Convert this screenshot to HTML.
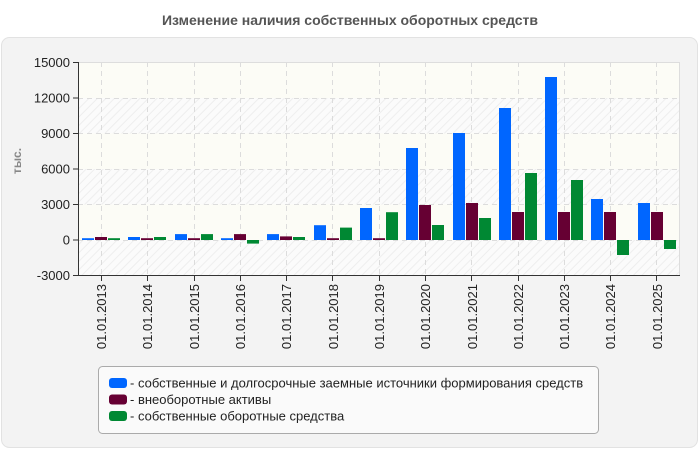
<!DOCTYPE html>
<html><head><meta charset="utf-8"><style>
html,body{margin:0;padding:0;background:#fff;}
svg{display:block;font-family:"Liberation Sans",sans-serif;}
</style></head><body>
<svg width="700" height="450" viewBox="0 0 700 450" xmlns="http://www.w3.org/2000/svg">
<defs>
<pattern id="h" width="6" height="6" patternUnits="userSpaceOnUse" patternTransform="rotate(45)">
<rect width="6" height="6" fill="#fbfbfb"/><line x1="0" y1="0" x2="0" y2="6" stroke="#eeeeee" stroke-width="2"/>
</pattern>
</defs>
<text x="350" y="25" text-anchor="middle" font-size="14" font-weight="bold" fill="#555">Изменение наличия собственных оборотных средств</text>
<rect x="1.5" y="37.5" width="696" height="410" rx="8" fill="#f3f3f3" stroke="#e2e2e2"/>
<rect x="78" y="62.5" width="602" height="35.5" fill="#fcfcf6"/>
<rect x="78" y="98" width="602" height="35.5" fill="url(#h)"/>
<rect x="78" y="133.5" width="602" height="35.5" fill="#fcfcf6"/>
<rect x="78" y="169" width="602" height="35.5" fill="url(#h)"/>
<rect x="78" y="204.5" width="602" height="35.5" fill="#fcfcf6"/>
<rect x="78" y="240" width="602" height="35.5" fill="url(#h)"/>
<g stroke="#dcdcdc" stroke-dasharray="5,4" stroke-width="1">
<line x1="78" y1="98.5" x2="680" y2="98.5"/><line x1="78" y1="133.5" x2="680" y2="133.5"/><line x1="78" y1="169.5" x2="680" y2="169.5"/><line x1="78" y1="204.5" x2="680" y2="204.5"/><line x1="78" y1="240.5" x2="680" y2="240.5"/>
<line x1="101.5" y1="62" x2="101.5" y2="275"/><line x1="147.5" y1="62" x2="147.5" y2="275"/><line x1="194.5" y1="62" x2="194.5" y2="275"/><line x1="240.5" y1="62" x2="240.5" y2="275"/><line x1="286.5" y1="62" x2="286.5" y2="275"/><line x1="332.5" y1="62" x2="332.5" y2="275"/><line x1="379.5" y1="62" x2="379.5" y2="275"/><line x1="425.5" y1="62" x2="425.5" y2="275"/><line x1="471.5" y1="62" x2="471.5" y2="275"/><line x1="518.5" y1="62" x2="518.5" y2="275"/><line x1="564.5" y1="62" x2="564.5" y2="275"/><line x1="610.5" y1="62" x2="610.5" y2="275"/><line x1="656.5" y1="62" x2="656.5" y2="275"/>
</g>
<line x1="78" y1="62.5" x2="680" y2="62.5" stroke="#dddddd"/>
<line x1="679.5" y1="62" x2="679.5" y2="275" stroke="#dddddd"/>
<g fill="#0066ff">
<rect x="82" y="238.2" width="12" height="1.8"/><rect x="128" y="237" width="12" height="3"/><rect x="175" y="234.1" width="12" height="5.9"/><rect x="221" y="238.2" width="12" height="1.8"/><rect x="267" y="234.1" width="12" height="5.9"/><rect x="314" y="225.2" width="12" height="14.8"/><rect x="360" y="208" width="12" height="32"/><rect x="406" y="148" width="12" height="92"/><rect x="453" y="133" width="12" height="107"/><rect x="499" y="108" width="12" height="132"/><rect x="545" y="77" width="12" height="163"/><rect x="591" y="199" width="12" height="41"/><rect x="638" y="203" width="12" height="37"/>
</g>
<g fill="#660033">
<rect x="95" y="237" width="12" height="3"/><rect x="141" y="238.2" width="12" height="1.8"/><rect x="188" y="238.2" width="12" height="1.8"/><rect x="234" y="234.1" width="12" height="5.9"/><rect x="280" y="236.4" width="12" height="3.6"/><rect x="327" y="238.2" width="12" height="1.8"/><rect x="373" y="238.2" width="12" height="1.8"/><rect x="419" y="205" width="12" height="35"/><rect x="466" y="203" width="12" height="37"/><rect x="512" y="212" width="12" height="28"/><rect x="558" y="212" width="12" height="28"/><rect x="604" y="212" width="12" height="28"/><rect x="651" y="212" width="12" height="28"/>
</g>
<g fill="#008833">
<rect x="108" y="238.2" width="12" height="1.8"/><rect x="154" y="237" width="12" height="3"/><rect x="201" y="234.1" width="12" height="5.9"/><rect x="247" y="240" width="12" height="3.6"/><rect x="293" y="237" width="12" height="3"/><rect x="340" y="227.6" width="12" height="12.4"/><rect x="386" y="212.2" width="12" height="27.8"/><rect x="432" y="225" width="12" height="15"/><rect x="479" y="218" width="12" height="22"/><rect x="525" y="173" width="12" height="67"/><rect x="571" y="180" width="12" height="60"/><rect x="617" y="240" width="12" height="15"/><rect x="664" y="240" width="12" height="9"/>
</g>
<line x1="78.5" y1="62" x2="78.5" y2="276" stroke="#333"/>
<line x1="78" y1="275.5" x2="680" y2="275.5" stroke="#333"/>
<g stroke="#333">
<line x1="73" y1="62.5" x2="78" y2="62.5"/><line x1="73" y1="98" x2="78" y2="98"/><line x1="73" y1="133.5" x2="78" y2="133.5"/><line x1="73" y1="169" x2="78" y2="169"/><line x1="73" y1="204.5" x2="78" y2="204.5"/><line x1="73" y1="240" x2="78" y2="240"/><line x1="73" y1="275.5" x2="78" y2="275.5"/>
<line x1="101.5" y1="276" x2="101.5" y2="281"/><line x1="147.5" y1="276" x2="147.5" y2="281"/><line x1="194.5" y1="276" x2="194.5" y2="281"/><line x1="240.5" y1="276" x2="240.5" y2="281"/><line x1="286.5" y1="276" x2="286.5" y2="281"/><line x1="332.5" y1="276" x2="332.5" y2="281"/><line x1="379.5" y1="276" x2="379.5" y2="281"/><line x1="425.5" y1="276" x2="425.5" y2="281"/><line x1="471.5" y1="276" x2="471.5" y2="281"/><line x1="518.5" y1="276" x2="518.5" y2="281"/><line x1="564.5" y1="276" x2="564.5" y2="281"/><line x1="610.5" y1="276" x2="610.5" y2="281"/><line x1="656.5" y1="276" x2="656.5" y2="281"/>
</g>
<g font-size="13" fill="#222" text-anchor="end">
<text x="70" y="67">15000</text><text x="70" y="102.5">12000</text><text x="70" y="138">9000</text><text x="70" y="173.5">6000</text><text x="70" y="209">3000</text><text x="70" y="244.5">0</text><text x="70" y="280">-3000</text>
</g>
<text transform="translate(21,161) rotate(-90)" text-anchor="middle" font-size="12" font-weight="bold" fill="#888">тыс.</text>
<g font-size="13" fill="#222" text-anchor="end">
<text transform="translate(106,284) rotate(-90)">01.01.2013</text>
<text transform="translate(152,284) rotate(-90)">01.01.2014</text>
<text transform="translate(199,284) rotate(-90)">01.01.2015</text>
<text transform="translate(245,284) rotate(-90)">01.01.2016</text>
<text transform="translate(291,284) rotate(-90)">01.01.2017</text>
<text transform="translate(338,284) rotate(-90)">01.01.2018</text>
<text transform="translate(384,284) rotate(-90)">01.01.2019</text>
<text transform="translate(430,284) rotate(-90)">01.01.2020</text>
<text transform="translate(477,284) rotate(-90)">01.01.2021</text>
<text transform="translate(523,284) rotate(-90)">01.01.2022</text>
<text transform="translate(569,284) rotate(-90)">01.01.2023</text>
<text transform="translate(615,284) rotate(-90)">01.01.2024</text>
<text transform="translate(662,284) rotate(-90)">01.01.2025</text>
</g>
<rect x="98.5" y="366.5" width="500" height="67" rx="4" fill="#fafafa" stroke="#aaa"/>
<rect x="109" y="378" width="18" height="10" rx="3" fill="#0066ff"/>
<rect x="109" y="394.5" width="18" height="10" rx="3" fill="#660033"/>
<rect x="109" y="411" width="18" height="10" rx="3" fill="#008833"/>
<g font-size="13" fill="#222">
<text x="130" y="387.5">- собственные и долгосрочные заемные источники формирования средств</text>
<text x="130" y="404">- внеоборотные активы</text>
<text x="130" y="420.5">- собственные оборотные средства</text>
</g>
</svg>
</body></html>
